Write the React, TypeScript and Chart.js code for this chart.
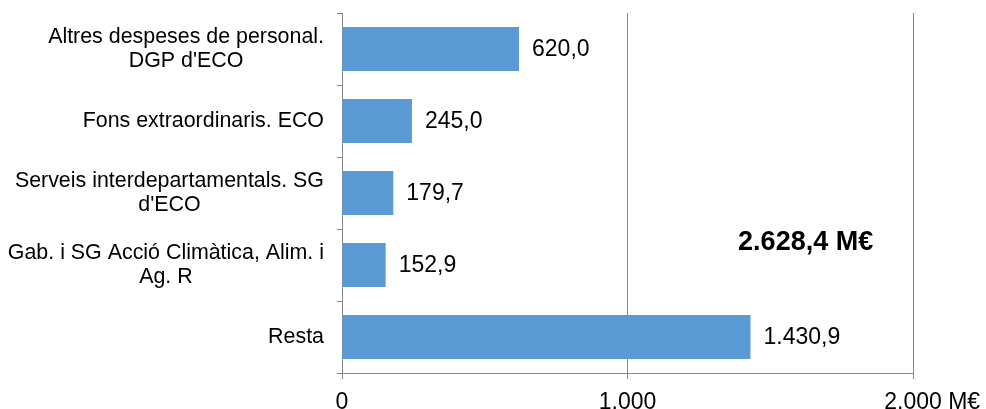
import React, { useEffect, useRef } from "react";
import { Chart, registerables } from "chart.js";

Chart.register(...registerables);

const categories: string[][] = [
  ["Altres despeses de personal.", "DGP d'ECO"],
  ["Fons extraordinaris. ECO"],
  ["Serveis interdepartamentals. SG", "d'ECO"],
  ["Gab. i SG Acció Climàtica, Alim. i", "Ag. R"],
  ["Resta"],
];
const values: number[] = [620.0, 245.0, 179.7, 152.9, 1430.9];
const xMin = 0;
const xMax = 2000;
const xStep = 1000;
const unitLabel = "M€";
const totalLabel = "2.628,4 M€";

const FONT = "'Liberation Sans', Arial, sans-serif";
const BAR_COLOR = "#5B9BD5";
const AXIS_COLOR = "#888888";
const X_TICK_LEN = 6;
const X_TICK_PAD = 10;
const X_TICK_SIZE = 23;

function formatNum(v: number, decimals: number): string {
  const neg = v < 0;
  const fixed = Math.abs(v).toFixed(decimals);
  const [intPart, decPart] = fixed.split(".");
  const withSep = intPart.replace(/\B(?=(\d{3})+(?!\d))/g, ".");
  return (neg ? "-" : "") + withSep + (decPart ? "," + decPart : "");
}

const customDraw = {
  id: "customDraw",
  afterDraw(chart: any) {
    const ctx = chart.ctx;
    const area = chart.chartArea;
    const yScale = chart.scales.y;
    const xScale = chart.scales.x;
    ctx.save();
    ctx.fillStyle = "#000";

    // category labels: block right-aligned, lines centered within block
    ctx.font = `21.4px ${FONT}`;
    ctx.textBaseline = "middle";
    ctx.textAlign = "center";
    const lineH = 24;
    const right = area.left - 18;
    categories.forEach((lines, i) => {
      const yc = yScale.getPixelForValue(i);
      const maxW = Math.max(...lines.map((l) => ctx.measureText(l).width));
      const cx = right - maxW / 2;
      const y0 = yc - ((lines.length - 1) * lineH) / 2;
      lines.forEach((l, k) => ctx.fillText(l, cx, y0 + k * lineH));
    });

    // data labels
    ctx.font = `23px ${FONT}`;
    ctx.textAlign = "left";
    const meta = chart.getDatasetMeta(0);
    meta.data.forEach((el: any, i: number) => {
      ctx.fillText(formatNum(values[i], 1), el.x + 13, el.y + 1);
    });

    // unit after last tick, aligned with tick labels
    ctx.font = `${X_TICK_SIZE}px ${FONT}`;
    const lastPx = xScale.getPixelForValue(xMax);
    const lastTxt = formatNum(xMax, 0);
    const w = ctx.measureText(lastTxt + " ").width;
    ctx.textBaseline = "middle";
    ctx.fillText(
      unitLabel,
      lastPx - ctx.measureText(lastTxt).width / 2 + w,
      area.bottom + X_TICK_LEN + X_TICK_PAD + (1.2 * X_TICK_SIZE) / 2
    );

    // total annotation
    ctx.font = `bold 27px ${FONT}`;
    ctx.textAlign = "center";
    ctx.textBaseline = "middle";
    ctx.fillText(totalLabel, area.left + 0.812 * (area.right - area.left), area.top + 0.638 * (area.bottom - area.top));
    ctx.restore();
  },
};

export default function App() {
  const ref = useRef<HTMLCanvasElement | null>(null);
  useEffect(() => {
    if (!ref.current) return;
    const chart = new Chart(ref.current, {
      type: "bar",
      data: {
        labels: categories.map((c) => c.join(" ")),
        datasets: [
          {
            data: values,
            backgroundColor: BAR_COLOR,
            borderWidth: 0,
            categoryPercentage: 1,
            barPercentage: 0.61,
          },
        ],
      },
      options: {
        indexAxis: "y",
        responsive: false,
        animation: false,
        devicePixelRatio: 1,
        layout: { padding: { top: 13, right: 73, bottom: 0, left: 0 } },
        plugins: { legend: { display: false }, tooltip: { enabled: false } },
        scales: {
          x: {
            min: xMin,
            max: xMax,
            ticks: {
              stepSize: xStep,
              callback: (v: any) => formatNum(Number(v), 0),
              font: { family: FONT, size: X_TICK_SIZE, lineHeight: 1.2 },
              color: "#000",
              padding: X_TICK_PAD,
              maxRotation: 0,
            },
            grid: { color: AXIS_COLOR, tickLength: X_TICK_LEN, lineWidth: 1 },
            border: { color: AXIS_COLOR },
            afterFit: (s: any) => {
              s.height = 36;
            },
          },
          y: {
            ticks: { display: false },
            grid: {
              offset: true,
              drawOnChartArea: false,
              tickLength: 5,
              color: AXIS_COLOR,
            },
            border: { color: AXIS_COLOR },
            afterFit: (s: any) => {
              s.width = 342;
            },
          },
        },
      } as any,
      plugins: [customDraw],
    });
    return () => chart.destroy();
  }, []);
  return (
    <div style={{ position: "absolute", left: 0, top: 0, width: 986, height: 409, background: "#fff" }}>
      <canvas ref={ref} width={986} height={409} />
    </div>
  );
}
